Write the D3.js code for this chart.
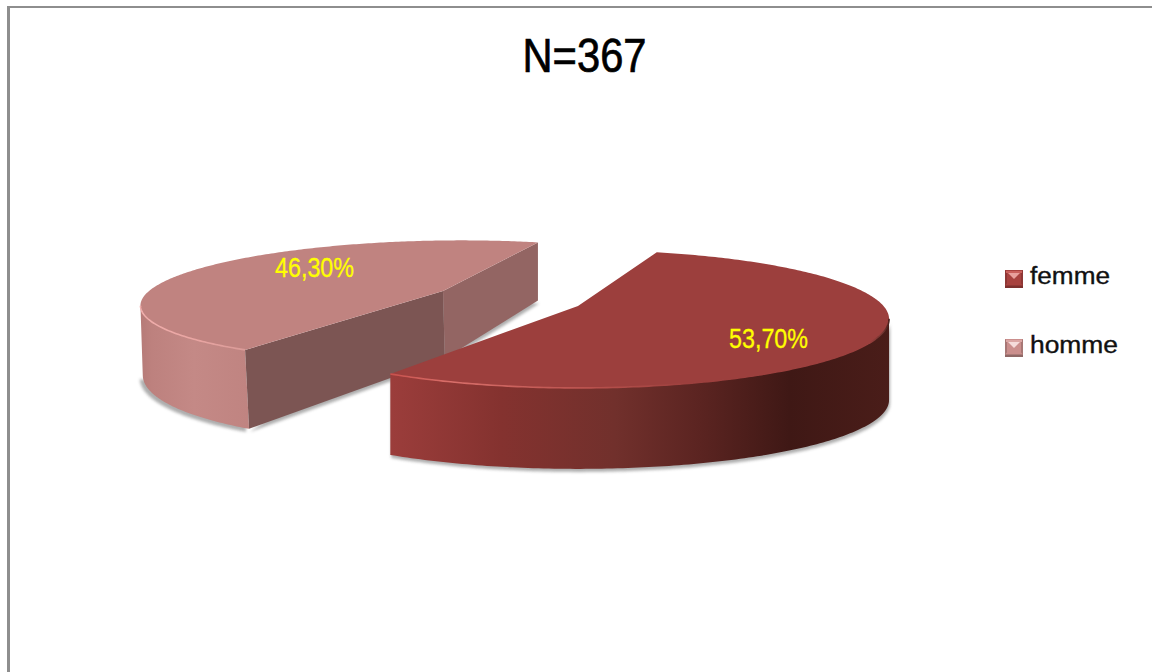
<!DOCTYPE html>
<html><head><meta charset="utf-8">
<script src="https://cdn.jsdelivr.net/npm/d3@7"></script>
<style>html,body{margin:0;padding:0;background:#fff}svg{display:block}</style>
</head><body><svg id="c" width="1152" height="672"></svg>
<script>
const categories = ["femme", "homme"];
const values = [53.7, 46.3];
const valueLabels = ["53,70%", "46,30%"];
const titleText = "N=367";

const svg = d3.select("#c");
const W = 1152, H = 672;
const deg = Math.PI / 180;
const pie = d3.pie().sort(null).startAngle(17.7 * deg).endAngle((17.7 + 360) * deg);
const arcs = pie(values);

// Perspective view of each exploded slice's disc
const views = {
  femme: {x0:578, y0:306, R:305.5, K:66.5, p:.188, s:0, depth:()=>81, dx:()=>0},
  homme: {x0:443, y0:291, R:294, K:59, p:.165, s:-21.5,
          depth:y=>58+(y-242)*.36*.54, dx:y=>(y-242)*.037}
};
const project = (v, a, r=1) => {
  const X = Math.sin(a)*r, Y = -Math.cos(a)*r, w = 1 - v.p*Y;
  return [v.x0 + (v.R*X + v.s*Y)/w, v.y0 + v.K*Y/w];
};
const lower = (v, pt) => [pt[0]+v.dx(pt[1]), pt[1]+v.depth(pt[1])];
const line = d3.line();
const rim = (v, a0, a1) => d3.range(0, 241).map(i => project(v, a0+(a1-a0)*i/240));
const poly = pts => line(pts) + "Z";

const defs = svg.append("defs");
const grad = (id, x1, x2, stops) => {
  const g = defs.append("linearGradient").attr("id", id)
    .attr("gradientUnits","userSpaceOnUse").attr("x1",x1).attr("x2",x2).attr("y1",0).attr("y2",0);
  stops.forEach(([o,c]) => g.append("stop").attr("offset",o).attr("stop-color",c));
};
grad("wF",392,889,[[0,"#9b3d3b"],[.22,"#84322f"],[.45,"#71302c"],[.62,"#5b2421"],[.8,"#3f1815"],[1,"#4a1d19"]]);
grad("wH",141,247,[[0,"#b67b78"],[.1,"#bd817e"],[.5,"#c48986"],[1,"#c08481"]]);
grad("rF",392,889,[[0,"#c9524e"],[.12,"#d96f6a"],[.4,"#b9514d"],[.6,"#9c3f3d"],[.96,"#9c3f3d"],[.99,"#6c322e"],[1,"#4a1d19"]]);
grad("rH",141,247,[[0,"#f0aeac"],[.5,"#e9a5a2"],[1,"#d99a97"]]);
defs.append("filter").attr("id","blur").attr("x","-10%").attr("y","-20%").attr("width","120%").attr("height","140%")
  .append("feGaussianBlur").attr("stdDeviation",1.6);

svg.append("rect").attr("width",W).attr("height",H).attr("fill","#fff");
svg.append("rect").attr("x",7).attr("y",6).attr("width",W-7).attr("height",2).attr("fill","#8e8e8e");
svg.append("rect").attr("x",7).attr("y",6).attr("width",3).attr("height",H-6).attr("fill","#8e8e8e");

const arcOf = name => arcs[categories.indexOf(name)];
const F = arcOf("femme"), Hm = arcOf("homme");
const vF = views.femme, vH = views.homme;
const shadow = svg.append("g").attr("filter","url(#blur)").attr("fill","#8b8b8b").attr("opacity",.7);

// Homme: shadow, outer wall (only the front part up to the leftmost point), cut faces, top
const hRim = rim(vH, Hm.startAngle, Hm.endAngle);
const hApex = [vH.x0, vH.y0];
const hTip0 = hRim[0], hTip1 = hRim[hRim.length-1];
const hLeft = d3.leastIndex(hRim, (a,b)=>a[0]-b[0]);
const hVisible = hRim.slice(0, hLeft+1);
const hBand = hVisible.concat(hVisible.map(p=>lower(vH,p)).reverse());
shadow.append("path").attr("transform","translate(-3,3)").attr("d",
  poly(hVisible.map(p=>lower(vH,p)).concat([[lower(vH,hTip0)[0],lower(vH,hTip0)[1]-30]])));
shadow.append("path").attr("transform","translate(1,3)").attr("d",
  poly([lower(vH,hTip0),lower(vH,hApex),lower(vH,hTip1),hApex]));
svg.append("path").attr("d",poly(hBand)).attr("fill","url(#wH)");
svg.append("path").attr("d",poly([hTip0,hApex,lower(vH,hApex),lower(vH,hTip0)])).attr("fill","#7c5553");
svg.append("path").attr("d",poly([hApex,hTip1,lower(vH,hTip1),lower(vH,hApex)])).attr("fill","#936563");
svg.append("path").attr("d",poly(hRim.concat([hApex]))).attr("fill","#c08380");
svg.append("path").attr("d",line(hVisible)).attr("fill","none").attr("stroke","url(#rH)").attr("stroke-width",1.6);

// Femme: shadow, outer wall (from the rightmost point on), top
const fRim = rim(vF, F.startAngle, F.endAngle);
const fApex = [vF.x0, vF.y0];
const fRight = d3.greatestIndex(fRim, (a,b)=>a[0]-b[0]);
const fVisible = fRim.slice(fRight);
const fBand = fVisible.concat(fVisible.map(p=>lower(vF,p)).reverse());
shadow.append("path").attr("transform","translate(1,3)").attr("d",poly(fBand));
svg.append("path").attr("d",poly(fBand)).attr("fill","url(#wF)");
svg.append("path").attr("d",poly(fRim.concat([fApex]))).attr("fill","#9c3f3d");
svg.append("path").attr("d",line(fVisible)).attr("fill","none").attr("stroke","url(#rF)").attr("stroke-width",1.6);

// Value labels
const labelPos = {femme:[768.5,348], homme:[314.5,277]};
categories.forEach((c,i)=>{
  svg.append("text").attr("x",labelPos[c][0]).attr("y",labelPos[c][1])
    .attr("text-anchor","middle").attr("font-family","'Liberation Sans',Arial,sans-serif")
    .attr("font-size",27).attr("fill","#ffff00").attr("stroke","#ffff00").attr("stroke-width",.3)
    .attr("textLength",79).attr("lengthAdjust","spacingAndGlyphs").text(valueLabels[i]);
});

// Title
svg.append("text").attr("x",584.5).attr("y",72).attr("text-anchor","middle")
  .attr("font-family","'Liberation Sans',Arial,sans-serif").attr("font-size",48).attr("fill","#000")
  .attr("stroke","#000").attr("stroke-width",.7)
  .attr("textLength",124).attr("lengthAdjust","spacingAndGlyphs").text(titleText);

// Legend
const legendStyle = {
  femme:{base:"#a8423f",edge:"#7d302e",tri:"#e8a09c",top:"#c9605c"},
  homme:{base:"#cb8f8d",edge:"#8f6866",tri:"#f5dcdb",top:"#dca7a5"}
};
const legendY = d3.scalePoint().domain(categories).range([270,339]);
const legendW = {femme:80, homme:88};
categories.forEach(c=>{
  const st = legendStyle[c], g = svg.append("g").attr("transform",`translate(1005,${legendY(c)})`);
  g.append("rect").attr("width",18).attr("height",18).attr("fill",st.base);
  g.append("path").attr("d","M0 15.5H18V18H0Z").attr("fill",st.edge);
  g.append("path").attr("d","M0 15.5V0L2 2V13.5ZM18 15.5V0L16 2V13.5Z").attr("fill",st.edge).attr("opacity",.6);
  g.append("path").attr("d","M1 1H17V3H1Z").attr("fill",st.top);
  g.append("path").attr("d","M3 3H15L9 9Z").attr("fill",st.tri);
  svg.append("text").attr("x",1030).attr("y",legendY(c)+14)
    .attr("font-family","'Liberation Sans',Arial,sans-serif").attr("font-size",23).attr("fill","#111")
    .attr("stroke","#111").attr("stroke-width",.35)
    .attr("textLength",legendW[c]).attr("lengthAdjust","spacingAndGlyphs").text(c);
});
</script></body></html>
